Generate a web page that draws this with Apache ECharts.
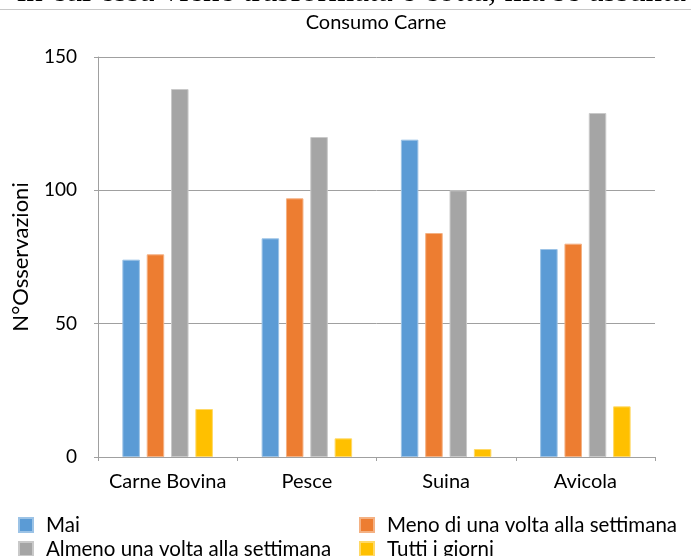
<!DOCTYPE html>
<html>
<head>
<meta charset="utf-8">
<script src="https://cdn.jsdelivr.net/npm/echarts@6/dist/echarts.min.js"></script>
<style>
  html, body { margin: 0; padding: 0; background: #ffffff; }
  #chart { width: 691px; height: 556px; }
</style>
</head>
<body>
<div id="chart"></div>
<script>
// Meat consumption frequency by type of meat
const categories = ['Carne Bovina', 'Pesce', 'Suina', 'Avicola'];
const seriesNames = ['Mai', 'Meno di una volta alla settimana', 'Almeno una volta alla settimana', 'Tutti i giorni'];
const mai = [74, 82, 119, 78];
const menoUnaVolta = [76, 97, 84, 80];
const almenoUnaVolta = [138, 120, 100, 129];
const tuttiIGiorni = [18, 7, 3, 19];
const yTicks = [0, 50, 100, 150];

const colors = ['#5b9bd5', '#ed7d31', '#a5a5a5', '#ffc000'];
const borders = ['#9cc3e6', '#f4b183', '#c9c9c9', '#ffd966'];
const values = [mai, menoUnaVolta, almenoUnaVolta, tuttiIGiorni];
const FONT = 'Lato, "Open Sans", sans-serif';

// legend placed as a 2x2 block: [left, top] for each series entry
const legendSlots = [[18, 514], [359, 514], [18, 538], [359, 538]];

const chart = echarts.init(document.getElementById('chart'), null, { renderer: 'canvas' });

chart.setOption({
  animation: false,
  backgroundColor: '#ffffff',
  title: {
    text: 'Consumo Carne',
    left: 376,
    top: 13,
    padding: 0,
    textAlign: 'center',
    textStyle: { fontFamily: FONT, fontSize: 20, fontWeight: 'normal', color: '#000000', lineHeight: 20 }
  },
  graphic: [
    {
      type: 'text',
      left: 17,
      top: -24,
      silent: true,
      style: {
        text: 'in cui essa viene trasformata e cotta, ma se assunta',
        font: '33px "Liberation Serif", "Times New Roman", serif',
        fill: '#000000'
      }
    },
    {
      type: 'line',
      silent: true,
      shape: { x1: 0, y1: 9.5, x2: 691, y2: 9.5 },
      style: { stroke: '#c8c8c8', lineWidth: 1 }
    }
  ],
  legend: seriesNames.map((name, i) => ({
    left: legendSlots[i][0],
    top: legendSlots[i][1],
    padding: 0,
    itemWidth: 14,
    itemHeight: 14,
    icon: 'rect',
    data: [name],
    textStyle: { fontFamily: FONT, fontSize: 20.5, color: '#000000', lineHeight: 22, padding: [0, 0, 0, 8] }
  })),
  grid: { left: 98, right: 36, top: 57, bottom: 99, containLabel: false },
  xAxis: {
    type: 'category',
    data: categories,
    axisLine: { lineStyle: { color: '#a0a0a0', width: 1 } },
    axisTick: { show: true, length: 4, lineStyle: { color: '#a0a0a0' } },
    axisLabel: { interval: 0, fontFamily: FONT, fontSize: 20, color: '#000000', margin: 15 }
  },
  yAxis: {
    type: 'value',
    min: yTicks[0],
    max: yTicks[yTicks.length - 1],
    interval: 50,
    name: 'N°Osservazioni',
    nameLocation: 'middle',
    nameGap: 66,
    nameTextStyle: { fontFamily: FONT, fontSize: 22, color: '#000000' },
    axisLine: { show: true, lineStyle: { color: '#a0a0a0', width: 1 } },
    axisTick: { show: true, length: 4, lineStyle: { color: '#a0a0a0' } },
    axisLabel: { fontFamily: FONT, fontSize: 19, color: '#000000', margin: 21 },
    splitLine: { show: true, lineStyle: { color: '#a0a0a0', width: 1 } }
  },
  series: values.map((v, i) => ({
    name: seriesNames[i],
    type: 'bar',
    data: v,
    barGap: '39%',
    barCategoryGap: '35%',
    itemStyle: { color: colors[i], borderColor: borders[i], borderWidth: 1 }
  }))
});
</script>
</body>
</html>
